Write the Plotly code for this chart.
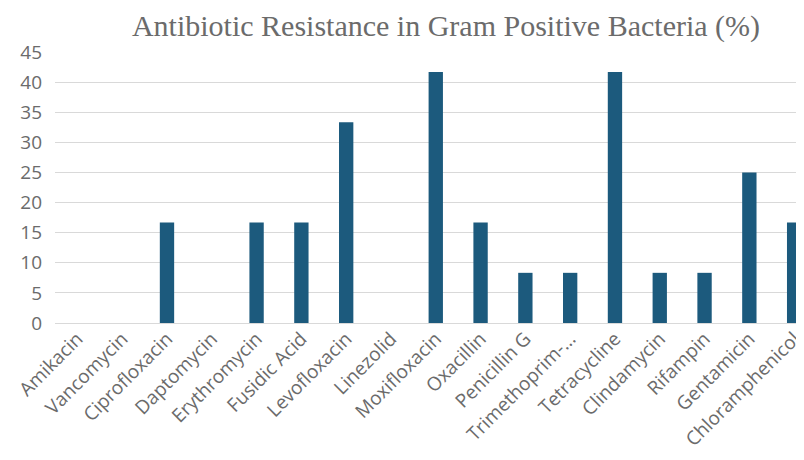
import plotly.graph_objects as go

antibiotics = ["Amikacin", "Vancomycin", "Ciprofloxacin", "Daptomycin", "Erythromycin",
               "Fusidic Acid", "Levofloxacin", "Linezolid", "Moxifloxacin", "Oxacillin",
               "Penicillin G", "Trimethoprim-...", "Tetracycline", "Clindamycin",
               "Rifampin", "Gentamicin", "Chloramphenicol"]
resistance_pct = [0, 0, 16.67, 0, 16.67, 16.67, 33.33, 0, 41.67, 16.67,
                  8.33, 8.33, 41.67, 8.33, 8.33, 25, 16.67]
y_ticks = [0, 5, 10, 15, 20, 25, 30, 35, 40, 45]

W, H = 796, 452  # page body adds an 8px offset

fig = go.Figure(go.Bar(x=antibiotics, y=resistance_pct, marker_color="#1c5a7d",
                       marker_line_width=0))

fig.update_layout(
    width=W, height=H,
    margin=dict(l=47, r=0, t=44, b=137, autoexpand=False),
    paper_bgcolor="white", plot_bgcolor="white",
    bargap=0.68,
    showlegend=False,
    title=dict(text="Antibiotic Resistance in Gram Positive Bacteria (%)",
               font=dict(family="Liberation Serif", size=30, color="#6b6b6b"),
               x=438/W, xanchor="center", xref="container",
               y=1 - 17/H, yanchor="middle", yref="container"),
    xaxis=dict(tickangle=-45, tickfont=dict(family="Open Sans", size=19, color="#6b6b6b"),
               range=[-0.5, 16.22], showgrid=False, showline=False, ticks="",
               automargin=False),
    yaxis=dict(range=[0, 45], tickvals=y_ticks,
               tickfont=dict(family="Open Sans", size=19, color="#6b6b6b"),
               showgrid=True, gridcolor="#d9d9d9", gridwidth=1,
               zeroline=True, zerolinecolor="#d9d9d9", zerolinewidth=1,
               showline=False, ticks="", ticklabelstandoff=12, automargin=False),
)

fig.write_html("out.html")
